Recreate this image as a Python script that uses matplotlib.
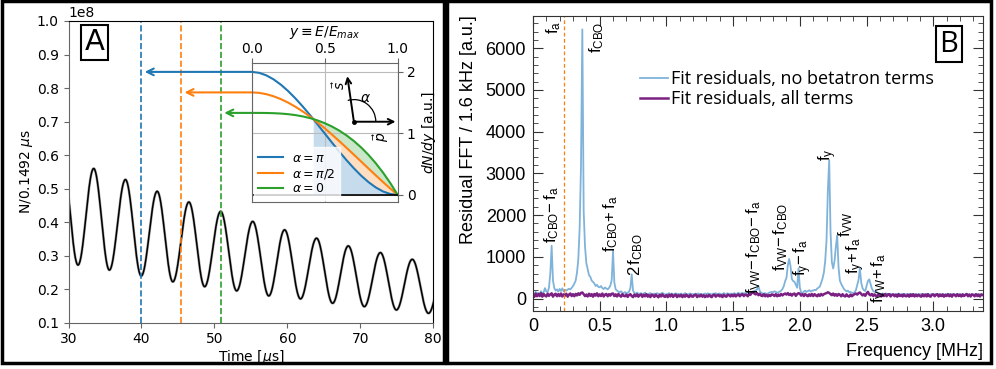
import numpy as np
import matplotlib
matplotlib.use('Agg')
import matplotlib.pyplot as plt
from matplotlib.patches import Rectangle, Arc
from matplotlib.ticker import MultipleLocator, FixedLocator, FixedFormatter
from matplotlib.font_manager import FontProperties

plt.rcParams['mathtext.fontset'] = 'custom'
plt.rcParams['mathtext.rm'] = 'Liberation Sans'
plt.rcParams['mathtext.it'] = 'Liberation Sans:italic'
plt.rcParams['mathtext.bf'] = 'Liberation Sans:bold'

# ---------------- Panel A data ----------------
# extrema of the wiggle (time in us, counts in 1e8 per 0.1492 us)
wiggle_t = [29.12, 31.3, 33.45, 35.6, 37.8, 39.97, 42.15, 44.3, 46.5, 48.66, 50.86,
            53.05, 55.25, 57.45, 59.62, 61.8, 64.0, 66.2, 68.35, 70.55, 72.75,
            74.95, 77.12, 79.35, 81.5]
wiggle_n = [0.59, 0.272, 0.56, 0.257, 0.527, 0.2395, 0.492, 0.222, 0.460, 0.2075, 0.432,
            0.195, 0.402, 0.180, 0.377, 0.171, 0.352, 0.158, 0.329, 0.148, 0.309,
            0.138, 0.289, 0.128, 0.27]
vline_times = [40.0, 45.45, 50.9]
alpha_labels = [r'$\alpha = \pi$', r'$\alpha = \pi/2$', r'$\alpha = 0$']

# inset spectra dN/dy vs y=E/Emax
y_frac = [0.0, 0.05, 0.1, 0.15, 0.2, 0.25, 0.3, 0.35, 0.4, 0.4215, 0.45, 0.5, 0.55,
          0.6, 0.65, 0.7, 0.75, 0.8, 0.85, 0.9, 0.95, 1.0]
dndy_pi = [2.0, 1.9855, 1.944, 1.8785, 1.792, 1.6875, 1.568, 1.4365, 1.296, 1.2335, 1.1495,
           1.0, 0.8505, 0.704, 0.5635, 0.432, 0.3125, 0.208, 0.1215, 0.056, 0.0145, 0.0]
dndy_half = [1.6667, 1.6594, 1.638, 1.6037, 1.5573, 1.5, 1.4327, 1.3564, 1.272, 1.2335, 1.1807,
             1.0833, 0.981, 0.8747, 0.7654, 0.654, 0.5417, 0.4294, 0.318, 0.2087, 0.1024, 0.0]
dndy_zero = [1.3333, 1.3332, 1.332, 1.3288, 1.3227, 1.3125, 1.2973, 1.2762, 1.248, 1.2335, 1.2118,
             1.1667, 1.1115, 1.0453, 0.9672, 0.876, 0.7708, 0.6507, 0.5145, 0.3613, 0.1902, 0.0]

# ---------------- Panel B data ----------------
freq_step = 0.01
fft_no_betatron = [
    120, 95, 160, 115, 140, 105, 175, 130, 150, 250,
    170, 150, 260, 600, 1266, 430, 250, 190, 220, 165,
    230, 180, 245, 175, 205, 190, 215, 235, 220, 255,
    300, 360, 430, 620, 950, 1700, 3200, 6450, 2100, 1250,
    850, 700, 560, 520, 430, 400, 360, 300, 330, 280,
    270, 300, 250, 230, 265, 240, 220, 255, 310, 440,
    1146, 380, 220, 190, 165, 150, 175, 140, 130, 155,
    125, 140, 165, 250, 580, 190, 135, 115, 140, 120,
    110, 130, 100, 120, 140, 110, 95, 120, 130, 100,
    110, 120, 90, 130, 110, 100, 120, 140, 110, 100,
    95, 115, 130, 100, 120, 90, 110, 125, 105, 115,
    100, 120, 95, 110, 130, 105, 90, 115, 120, 100,
    110, 95, 120, 105, 125, 100, 115, 90, 110, 120,
    105, 125, 100, 115, 95, 120, 110, 130, 100, 115,
    120, 100, 110, 130, 105, 115, 125, 100, 120, 110,
    115, 130, 105, 120, 140, 110, 125, 135, 120, 130,
    125, 140, 130, 150, 145, 165, 180, 200, 220, 300,
    175, 140, 125, 115, 130, 105, 120, 140, 150, 160,
    150, 175, 160, 140, 150, 170, 190, 230, 300, 420,
    500, 800, 950, 780, 470, 420, 400, 330, 260, 724,
    260, 150, 130, 170, 190, 160, 180, 200, 170, 190,
    190, 210, 200, 240, 260, 290, 380, 480, 620, 900,
    1400, 2600, 3320, 1600, 870, 720, 900, 1250, 1507, 750,
    430, 350, 290, 230, 200, 170, 190, 150, 160, 140,
    130, 150, 200, 330, 450, 724, 380, 250, 200, 180,
    300, 420, 460, 350, 240, 180, 160, 170, 140, 120,
    115, 100, 125, 110, 95, 120, 105, 100, 115, 90,
    105, 95, 110, 100, 120, 90, 105, 115, 95, 100,
    110, 90, 100, 115, 95, 105, 90, 110, 100, 95,
    100, 110, 90, 105, 95, 115, 100, 90, 105, 110,
    95, 100, 110, 90, 105, 100, 95, 110, 90, 100,
    105, 90, 100, 110, 95, 100, 105, 90, 100, 95,
    100, 95, 105, 90, 100, 110, 95, 100, 90, 105,
    95, 100, 90, 105, 100, 95, 100, 90]
fft_all_terms = [
    90, 40, 120, 55, 105, 60, 130, 45, 110, 70,
    50, 115, 65, 100, 125, 45, 95, 115, 55, 105,
    60, 120, 50, 100, 70, 115, 45, 95, 120, 60,
    105, 55, 110, 75, 125, 90, 135, 145, 105, 60,
    95, 50, 115, 65, 105, 45, 110, 70, 125, 55,
    100, 60, 120, 50, 95, 110, 55, 105, 70, 115,
    120, 60, 100, 50, 110, 70, 45, 105, 65, 55,
    95, 40, 85, 105, 60, 35, 95, 55, 100, 45,
    80, 100, 40, 90, 55, 105, 45, 80, 35, 95,
    75, 40, 95, 60, 30, 90, 50, 100, 55, 40,
    85, 35, 90, 50, 100, 40, 75, 95, 35, 80,
    50, 90, 35, 80, 45, 95, 55, 35, 90, 50,
    45, 85, 95, 35, 75, 50, 90, 45, 80, 35,
    75, 45, 90, 50, 35, 80, 95, 45, 75, 90,
    50, 80, 35, 90, 55, 45, 95, 80, 50, 90,
    55, 95, 50, 80, 100, 55, 90, 105, 60, 95,
    85, 55, 105, 90, 140, 160, 115, 100, 130, 80,
    115, 70, 60, 105, 55, 90, 50, 85, 60, 100,
    90, 60, 105, 55, 95, 65, 110, 75, 105, 120,
    95, 130, 85, 115, 70, 110, 120, 65, 105, 130,
    115, 70, 105, 60, 110, 75, 55, 100, 65, 110,
    60, 105, 75, 55, 100, 65, 110, 75, 105, 120,
    130, 150, 135, 105, 80, 120, 70, 105, 65, 110,
    90, 55, 105, 65, 50, 100, 60, 45, 95, 55,
    85, 105, 120, 95, 130, 145, 110, 75, 105, 65,
    120, 160, 100, 75, 110, 60, 100, 65, 55, 105,
    90, 50, 100, 60, 110, 55, 95, 105, 50, 85,
    100, 55, 90, 45, 105, 60, 85, 50, 100, 60,
    55, 95, 45, 100, 60, 105, 50, 90, 55, 95,
    60, 45, 100, 55, 95, 50, 105, 60, 45, 90,
    100, 55, 85, 105, 50, 95, 60, 100, 45, 90,
    60, 105, 55, 95, 45, 100, 85, 55, 105, 60,
    95, 50, 100, 60, 85, 110, 55, 95, 50, 100,
    85, 55, 105, 60, 95, 50, 100, 85]
f_a = 0.2291
peak_labels = [r'$\mathrm{f_{a}}$', r'$\mathrm{f_{CBO}}$', r'$\mathrm{f_{CBO}\!-f_{a}}$',
               r'$\mathrm{f_{CBO}\!+f_{a}}$', r'$\mathrm{2\,f_{CBO}}$',
               r'$\mathrm{f_{VW}\!-f_{CBO}\!-f_{a}}$', r'$\mathrm{f_{VW}\!-f_{CBO}}$',
               r'$\mathrm{f_{y}\!-f_{a}}$', r'$\mathrm{f_{y}}$', r'$\mathrm{f_{VW}}$',
               r'$\mathrm{f_{y}\!+f_{a}}$', r'$\mathrm{f_{VW}\!+f_{a}}$']
peak_label_x = [0.155, 0.477, 0.14, 0.58, 0.77, 1.655, 1.858, 2.02, 2.21, 2.34, 2.42, 2.59]
peak_label_top = [6650, 6650, 2680, 2480, 1560, 2362, 2300, 1444, 3600, 2080, 1480, 1084]
legend_B = ['Fit residuals, no betatron terms', 'Fit residuals, all terms']

# ---------------- figure ----------------
fig = plt.figure(figsize=(9.96, 3.69), dpi=100)
axA = fig.add_axes([0.0688, 0.1255, 0.3662, 0.8176])
ins = fig.add_axes([0.2527, 0.4534, 0.1466, 0.3751])
axB = fig.add_axes([0.5351, 0.157, 0.4515, 0.8005])

cols = ['#1f77b4', '#ff7f0e', '#2ca02c']

# --- Panel A main curve (half-cosine shaped segments between read extrema)
tt, nn = [], []
for i in range(len(wiggle_t) - 1):
    s = np.linspace(0, 1, 40, endpoint=False)
    tt.extend(wiggle_t[i] + s * (wiggle_t[i + 1] - wiggle_t[i]))
    nn.extend(wiggle_n[i] + (wiggle_n[i + 1] - wiggle_n[i]) * (1 - np.cos(np.pi * s)) / 2)
tt = np.array(tt); nn = np.array(nn) * 1e8
axA.plot(tt, nn, color='#aaaaaa', lw=1.9)
axA.plot(tt, nn, color='k', lw=1.1)
for t, c in zip(vline_times, cols):
    axA.axvline(t, color=c, ls='--', lw=1.2)
axA.set_xlim(30, 80)
axA.set_ylim(0.1e8, 1.0e8)
axA.yaxis.set_major_locator(MultipleLocator(0.1e8))
axA.xaxis.set_major_locator(MultipleLocator(10))
axA.tick_params(labelsize=10, color='#666666')
for sp in ['left', 'bottom']:
    axA.spines[sp].set_color('#666666')
axA.yaxis.get_offset_text().set_fontsize(10)
axA.set_xlabel(r'Time [$\mu$s]', fontsize=10, labelpad=1, math_fontfamily='dejavusans')
axA.set_ylabel(r'N/0.1492 $\mu$s', fontsize=10, labelpad=1, math_fontfamily='dejavusans')
axA.text(0.0713, 0.929, 'A', transform=axA.transAxes, fontsize=21, ha='center', va='center',
         bbox=dict(boxstyle='square,pad=0.12', fc='white', ec='k', lw=1.5))

# --- inset
ins.plot(y_frac, dndy_pi, color=cols[0], lw=1.5, label=alpha_labels[0])
ins.plot(y_frac, dndy_half, color=cols[1], lw=1.5, label=alpha_labels[1])
ins.plot(y_frac, dndy_zero, color=cols[2], lw=1.5, label=alpha_labels[2])
yf = np.array(y_frac)
ins.fill_between(y_frac, dndy_half, dndy_zero, where=yf >= 0.4215, color=cols[2], alpha=0.25, lw=0)
ins.fill_between(y_frac, dndy_pi, dndy_half, where=yf >= 0.4215, color=cols[1], alpha=0.25, lw=0)
ins.fill_between(y_frac, 0, dndy_pi, where=yf >= 0.4215, color=cols[0], alpha=0.25, lw=0)
ins.axhline(0, color='k', lw=1.2)
ins.set_xlim(0, 1)
ins.set_ylim(-0.11, 2.14)
ins.xaxis.tick_top(); ins.xaxis.set_label_position('top')
ins.yaxis.tick_right(); ins.yaxis.set_label_position('right')
ins.set_xticks([0.0, 0.5, 1.0]); ins.set_yticks([0, 1, 2])
ins.tick_params(labelsize=10, color='#666666', pad=3)
ins.tick_params(axis='x', pad=2)
for sp in ins.spines.values():
    sp.set_color('#666666')
ins.grid(True, color='#bbbbbb', lw=0.8)
ins.set_xlabel(r'$y \equiv E/E_{max}$', fontsize=10, labelpad=4, math_fontfamily='dejavusans')
ins.set_ylabel(r'$dN/dy$ [a.u.]', fontsize=10, labelpad=3, math_fontfamily='dejavusans')
leg = ins.legend(loc='lower left', prop=FontProperties(size=9, math_fontfamily='dejavusans'),
                 handlelength=2.0, borderpad=0.35, labelspacing=0.15, fancybox=False,
                 edgecolor='white', borderaxespad=0.15, handletextpad=0.7)
# momentum / spin vectors
ox, oy = 0.70, 1.19
ins.annotate('', xy=(0.985, oy), xytext=(ox, oy),
             arrowprops=dict(arrowstyle='->', color='k', lw=1.4, shrinkA=0, shrinkB=0))
ins.annotate('', xy=(0.655, 1.93), xytext=(ox, oy),
             arrowprops=dict(arrowstyle='->', color='k', lw=1.4, shrinkA=0, shrinkB=0))
ins.plot([ox], [oy], 'o', color='k', ms=2.5)
ins.add_patch(Arc((ox, oy), 0.30, 0.72, theta1=0, theta2=97, color='k', lw=0.9))
ins.text(0.605, 1.78, r'$\vec{s}$', fontsize=10, rotation=90, ha='center', va='center',
         math_fontfamily='dejavusans')
ins.text(0.89, 0.95, r'$\vec{p}$', fontsize=10, rotation=90, ha='center', va='center',
         math_fontfamily='dejavusans')
ins.text(0.78, 1.57, r'$\alpha$', fontsize=10, ha='center', va='center',
         math_fontfamily='dejavusans')

# arrows from inset to the main plot
fig.canvas.draw()
for val, c, t in zip([dndy_pi[0], dndy_half[0], dndy_zero[0]], cols, vline_times):
    disp = ins.transData.transform((0, val))
    xm, ym = axA.transData.inverted().transform(disp)
    axA.annotate('', xy=(t + 0.45, ym), xytext=(xm, ym),
                 arrowprops=dict(arrowstyle='->', color=c, lw=1.5, shrinkA=0, shrinkB=0,
                                 mutation_scale=12))

# --- Panel B
freqs = np.arange(len(fft_no_betatron)) * freq_step
axB.plot(freqs, fft_no_betatron, color='#7fb3da', lw=1.3, label=legend_B[0])
axB.plot(np.arange(len(fft_all_terms)) * freq_step, fft_all_terms, color='#7b2182', lw=1.8,
         label=legend_B[1])
axB.axvline(f_a, color='#ff7f0e', ls=(0, (3, 2)), lw=0.9)
axB.set_xlim(0, 3.37)
axB.set_ylim(-300, 6780)
axB.xaxis.set_major_locator(FixedLocator([0, 0.5, 1.0, 1.5, 2.0, 2.5, 3.0]))
axB.xaxis.set_major_formatter(FixedFormatter(['0', '0.5', '1.0', '1.5', '2.0', '2.5', '3.0']))
axB.xaxis.set_minor_locator(MultipleLocator(0.1))
axB.yaxis.set_major_locator(MultipleLocator(1000))
axB.yaxis.set_minor_locator(MultipleLocator(200))
axB.tick_params(which='both', direction='in', top=True, right=True, color='#333333')
axB.tick_params(which='major', length=7, labelsize=13, pad=5)
axB.tick_params(which='minor', length=3.5)
for lab in axB.get_xticklabels() + axB.get_yticklabels():
    lab.set_family('Liberation Sans')
for sp in axB.spines.values():
    sp.set_color('#333333')
axB.set_xlabel('Frequency [MHz]', fontsize=13, family='Liberation Sans', loc='right', labelpad=6)
axB.set_ylabel('Residual FFT / 1.6 kHz [a.u.]', fontsize=13, family='Liberation Sans',
               loc='top', labelpad=6)
for lab, x, top in zip(peak_labels, peak_label_x, peak_label_top):
    axB.text(x, top, lab, rotation=90, ha='center', va='top', fontsize=12)
axB.legend(loc='upper left', bbox_to_anchor=(0.238, 0.815), frameon=False,
           prop=FontProperties(family='Open Sans', size=13), handlelength=1.55,
           handletextpad=0.15, labelspacing=0.12, borderpad=0, borderaxespad=0)
axB.text(0.925, 0.904, 'B', transform=axB.transAxes, fontsize=21, ha='center', va='center',
         family='Open Sans', bbox=dict(boxstyle='square,pad=0.12', fc='white', ec='k', lw=1.5))

# panel frames
fig.add_artist(Rectangle((0.002, 0.0163), 0.4438, 0.9797, transform=fig.transFigure,
                         fill=False, ec='k', lw=2.5))
fig.add_artist(Rectangle((0.4483, 0.0163), 0.5467, 0.9797, transform=fig.transFigure,
                         fill=False, ec='k', lw=2.5))

fig.savefig('out.png', dpi=100)
